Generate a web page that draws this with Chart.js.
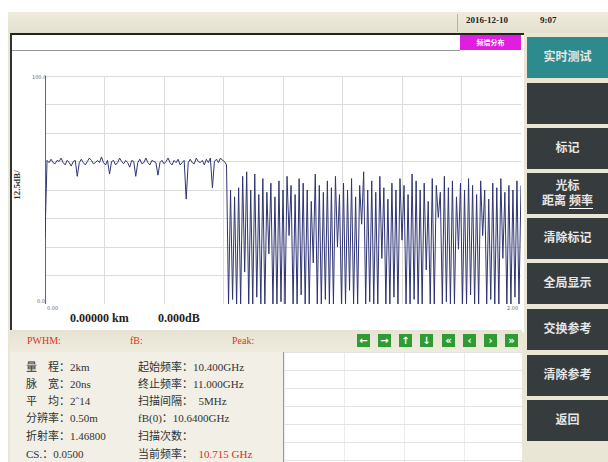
<!DOCTYPE html>
<html>
<head>
<meta charset="utf-8">
<script src="https://cdn.jsdelivr.net/npm/chart.js@4/dist/chart.umd.min.js"></script>
<style>
  body { margin:0; width:608px; height:462px; position:relative; overflow:hidden; background:#fff; font-family:"Liberation Serif", serif; }
  .abs { position:absolute; }
  .btn { position:absolute; left:527px; width:81px; height:41px; background:#363c3d; color:#e6e6e6;
         display:flex; align-items:center; justify-content:center; text-align:center;
         font:bold 12px "Liberation Serif", "Noto Sans CJK SC", serif; line-height:15px; }
  .arr { position:absolute; top:334px; width:13px; height:13px; background:#2f9b35; color:#fff;
         font:bold 10px "DejaVu Sans", sans-serif; line-height:13px; text-align:center; }
  .info { position:absolute; font:11px "Liberation Serif", "Noto Sans CJK SC", serif; color:#333; white-space:pre; }
  .tick { position:absolute; font:5px "DejaVu Sans", sans-serif; color:#666; }
  .st { position:absolute; top:335px; font:10px "Liberation Serif", serif; color:#e0301e; }
</style>
</head>
<body>
<!-- instrument frame -->
<div class="abs" style="left:8px;top:12px;width:600px;height:450px;background:#e9e6d6"></div>
<div class="abs" style="left:8px;top:12px;width:600px;height:21px;background:linear-gradient(#efecdd,#e3e0cf)"></div>
<div class="abs" style="left:457px;top:14px;width:1px;height:18px;background:#b8b5a6"></div>
<div class="abs" style="left:466px;top:15px;font:bold 9px 'Liberation Serif',serif;color:#222">2016-12-10</div>
<div class="abs" style="left:540px;top:15px;font:bold 9px 'Liberation Serif',serif;color:#222">9:07</div>

<!-- main white panel -->
<div class="abs" style="left:10px;top:33px;width:512px;height:297px;background:#fff;border-top:2px solid #222;border-left:2px solid #333"></div>
<div class="abs" style="left:12px;top:50px;width:448px;height:1px;background:#9a9a9a"></div>
<div class="abs" style="left:460px;top:35px;width:61px;height:15px;background:#e01ee0;color:#fff;font:bold 7px 'Noto Sans CJK SC';line-height:15px;text-align:center">频谱分布</div>

<div class="abs" style="left:2px;top:185px;transform:translate(0,-50%) rotate(-90deg);font:bold 9px 'Liberation Serif',serif;color:#333;white-space:nowrap">12.5dB/</div>
<div class="tick" style="left:32px;top:74px">100.0</div>
<div class="tick" style="left:37px;top:298px">0.0</div>
<div class="tick" style="left:47px;top:305px">0.00</div>
<div class="tick" style="left:507px;top:305px">2.00</div>

<canvas id="c" width="476" height="228" style="position:absolute;left:45px;top:76px"></canvas>

<div class="abs" style="left:70px;top:311px;font:bold 12px 'Liberation Serif',serif;color:#222">0.00000 km</div>
<div class="abs" style="left:158px;top:311px;font:bold 12px 'Liberation Serif',serif;color:#222">0.000dB</div>

<!-- status row -->
<div class="abs" style="left:10px;top:330px;width:512px;height:22px;background:linear-gradient(#e6e3d2,#efecde)"></div>
<div class="st" style="left:27px">PWHM:</div>
<div class="st" style="left:130px">fB:</div>
<div class="st" style="left:232px">Peak:</div>
<div class="arr" style="left:357px">&#8592;</div>
<div class="arr" style="left:378px">&#8594;</div>
<div class="arr" style="left:399px">&#8593;</div>
<div class="arr" style="left:420px">&#8595;</div>
<div class="arr" style="left:442px">&#171;</div>
<div class="arr" style="left:463px">&#8249;</div>
<div class="arr" style="left:484px">&#8250;</div>
<div class="arr" style="left:505px">&#187;</div>

<!-- info panel -->
<div class="abs" style="left:10px;top:352px;width:273px;height:110px;background:#f1efe6"></div>
<div class="abs" style="left:283px;top:352px;width:1px;height:110px;background:#999"></div>
<div class="abs" style="left:284px;top:352px;width:238px;height:110px;background:#fff;
  background-image:linear-gradient(#e4e4e4 1px,transparent 1px),linear-gradient(90deg,#ececec 1px,transparent 1px);
  background-size:60px 18px"></div>
<div class="info" style="left:26px;top:358px">量　程：2km</div>
<div class="info" style="left:26px;top:375px">脉　宽：20ns</div>
<div class="info" style="left:26px;top:392px">平　均：2ˆ14</div>
<div class="info" style="left:26px;top:409px">分辨率：0.50m</div>
<div class="info" style="left:26px;top:427px">折射率：1.46800</div>
<div class="info" style="left:26px;top:445px">CS.：0.0500</div>
<div class="info" style="left:138px;top:358px">起始频率：10.400GHz</div>
<div class="info" style="left:138px;top:375px">终止频率：11.000GHz</div>
<div class="info" style="left:138px;top:392px">扫描间隔：  5MHz</div>
<div class="info" style="left:138px;top:409px">fB(0)：10.6400GHz</div>
<div class="info" style="left:138px;top:427px">扫描次数：</div>
<div class="info" style="left:138px;top:445px">当前频率：  <span style="color:#d8321e">10.715 GHz</span></div>

<!-- right-hand soft keys -->
<div class="btn" style="top:37px;background:#2e8b8d">实时测试</div>
<div class="btn" style="top:83px"></div>
<div class="btn" style="top:128px">标记</div>
<div class="btn" style="top:173px"><div>光标<br>距离 <span style="border-bottom:1px solid #fff">频率</span></div></div>
<div class="btn" style="top:218px">清除标记</div>
<div class="btn" style="top:263px">全局显示</div>
<div class="btn" style="top:309px">交换参考</div>
<div class="btn" style="top:355px">清除参考</div>
<div class="btn" style="top:400px">返回</div>

<script>
// trace samples (dB), flat part up to the fibre end, then the noisy region
const traceHead = [
  29, 63, 62, 63.5, 62, 61.5, 63, 62.5, 64, 62,
  61, 63, 62, 60.5, 62.5, 63, 56, 62, 63.5, 62,
  61, 62.5, 64, 63, 61.5, 62, 63, 62, 64.5, 62,
  61, 63, 57, 62.5, 63, 61, 62, 64, 62.5, 61.5,
  63, 62, 60, 63, 62.5, 56, 62, 63.5, 61.5, 62,
  64, 62, 61, 63, 62.5, 62, 56.5, 62, 63, 61.5,
  62.5, 64, 62, 61, 63, 62, 63.5, 61, 62, 63,
  46, 62, 63.5, 62, 61.5, 64, 62.5, 62, 63, 61,
  63.5, 62, 64, 51, 62.5, 63.5, 62, 64, 63, 62.5,
  61
];
const traceTail = [
  0, 50, 2, 47, 0, 51, 0, 56, 14, 58,
  0, 50, 0, 57, 3, 48, 0, 55, 0, 49,
  22, 53, 0, 47, 0, 54, 1, 50, 0, 56,
  30, 52, 0, 48, 0, 55, 4, 53, 0, 50,
  0, 45, 18, 57, 0, 52, 0, 49, 2, 54,
  0, 51, 0, 56, 25, 48, 0, 53, 0, 50,
  6, 55, 0, 47, 0, 52, 35, 58, 0, 50,
  1, 54, 0, 49, 0, 56, 20, 51, 0, 46,
  0, 53, 3, 50, 0, 55, 28, 52, 0, 48,
  0, 57, 2, 54, 0, 50, 0, 53, 15, 45,
  0, 55, 0, 52, 38, 49, 0, 56, 1, 51,
  0, 54, 0, 47, 24, 53, 0, 50, 0, 55,
  4, 52, 0, 48, 0, 54, 30, 50, 0, 46,
  2, 53, 0, 51, 0, 55, 20, 49, 0, 52,
  0, 50, 3, 54, 0, 52
];
const rangeKm = 2;       // x axis 0..2 km
const dbMax = 100;       // 8 divisions of 12.5 dB

const trace = traceHead.concat(traceTail);
const pts = trace.map((v, i) => ({ x: i * rangeKm / (trace.length - 1), y: v }));

new Chart(document.getElementById("c"), {
  type: "line",
  data: {
    datasets: [{
      data: pts,
      borderColor: "#2f3472",
      borderWidth: 1,
      pointRadius: 0,
      tension: 0
    }]
  },
  options: {
    responsive: false,
    animation: false,
    layout: { padding: 0 },
    plugins: { legend: { display: false }, tooltip: { enabled: false } },
    scales: {
      x: {
        type: "linear", min: 0, max: rangeKm,
        ticks: { display: false, stepSize: rangeKm / 8 },
        grid: { color: "#dcdcdc", drawTicks: false },
        border: { display: true, color: "#9a9a9a" }
      },
      y: {
        min: 0, max: dbMax,
        ticks: { display: false, stepSize: dbMax / 8 },
        grid: { color: "#dcdcdc", drawTicks: false },
        border: { display: true, color: "#666" }
      }
    }
  }
});
</script>
</body>
</html>
